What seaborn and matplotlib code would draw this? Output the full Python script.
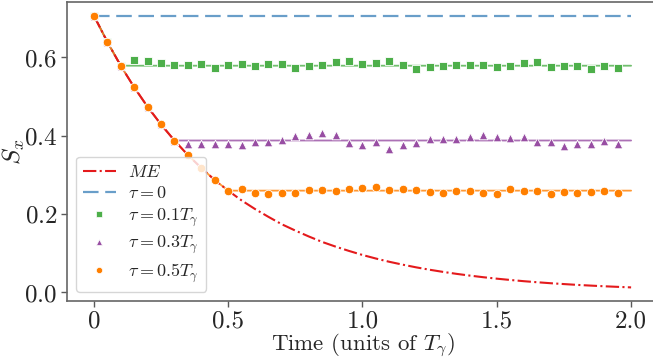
import numpy as np
import pandas as pd
import matplotlib
matplotlib.use("Agg")
import matplotlib.pyplot as plt
import seaborn as sns
from matplotlib.lines import Line2D

# ---------------- data ----------------
me_t = [0.00, 0.05, 0.10, 0.15, 0.20, 0.25, 0.30, 0.35, 0.40, 0.45, 0.50,
        0.55, 0.60, 0.65, 0.70, 0.75, 0.80, 0.85, 0.90, 0.95, 1.00,
        1.05, 1.10, 1.15, 1.20, 1.25, 1.30, 1.35, 1.40, 1.45, 1.50,
        1.55, 1.60, 1.65, 1.70, 1.75, 1.80, 1.85, 1.90, 1.95, 2.00]
me_s = [0.707, 0.640, 0.579, 0.524, 0.474, 0.429, 0.388, 0.351, 0.318, 0.287, 0.260,
        0.235, 0.213, 0.193, 0.174, 0.158, 0.143, 0.129, 0.117, 0.106, 0.0957,
        0.0866, 0.0783, 0.0709, 0.0641, 0.0580, 0.0525, 0.0475, 0.0430, 0.0389, 0.0352,
        0.0319, 0.0288, 0.0261, 0.0236, 0.0214, 0.0193, 0.0175, 0.0158, 0.0143, 0.0129]

tau0_value = 0.707

sample_t = me_t[:-1]  # 0 ... 1.95

s_tau01 = [0.707, 0.640, 0.579, 0.594, 0.592, 0.586, 0.580, 0.580, 0.584, 0.572,
           0.581, 0.584, 0.578, 0.583, 0.584, 0.574, 0.579, 0.581, 0.588, 0.592,
           0.584, 0.586, 0.590, 0.582, 0.570, 0.576, 0.577, 0.580, 0.582, 0.580,
           0.575, 0.577, 0.585, 0.589, 0.576, 0.579, 0.579, 0.571, 0.577, 0.572]
s_tau03 = [0.707, 0.640, 0.579, 0.524, 0.474, 0.429, 0.388, 0.379, 0.379, 0.379,
           0.380, 0.376, 0.384, 0.384, 0.390, 0.399, 0.403, 0.406, 0.401, 0.382,
           0.376, 0.383, 0.367, 0.376, 0.381, 0.393, 0.392, 0.393, 0.396, 0.401,
           0.397, 0.394, 0.396, 0.385, 0.385, 0.375, 0.378, 0.380, 0.387, 0.380]
s_tau05 = [0.707, 0.640, 0.579, 0.524, 0.474, 0.429, 0.388, 0.351, 0.318, 0.287,
           0.260, 0.263, 0.255, 0.252, 0.255, 0.255, 0.262, 0.262, 0.258, 0.264,
           0.267, 0.270, 0.262, 0.263, 0.261, 0.256, 0.255, 0.259, 0.258, 0.253,
           0.252, 0.263, 0.259, 0.258, 0.252, 0.257, 0.254, 0.257, 0.258, 0.254]

taus = [0.1, 0.3, 0.5]
plateaus = [0.579, 0.388, 0.260]
labels = [r"$\tau=0.1T_\gamma$", r"$\tau=0.3T_\gamma$", r"$\tau=0.5T_\gamma$"]
colors = ["#4daf4a", "#984ea3", "#ff7f00"]
markers = ["s", "^", "o"]

xtick_vals = [0, 0.5, 1.0, 1.5, 2.0]
xtick_labels = ["0", "0.5", "1.0", "1.5", "2.0"]
ytick_vals = [0.0, 0.2, 0.4, 0.6]

# ---------------- style ----------------
sns.set_style("ticks")
plt.rcParams["font.family"] = ["serif"]
plt.rcParams["font.serif"] = ["cmr10", "DejaVu Serif"]
plt.rcParams["mathtext.fontset"] = "cm"
plt.rcParams["axes.formatter.use_mathtext"] = True
plt.rcParams["axes.unicode_minus"] = False

fig = plt.figure(figsize=(6.53, 3.6), dpi=100)
ax = fig.add_axes([0.1026, 0.1639, 0.905, 0.8306])

# plateau (solid) lines: follow ME until tau, then flat
for tau, pl, col in zip(taus, plateaus, colors):
    xs = [t for t in me_t if t <= tau + 1e-9] + [2.0]
    ys = [s for t, s in zip(me_t, me_s) if t <= tau + 1e-9] + [pl]
    sns.lineplot(x=xs, y=ys, color=col, lw=1.3, alpha=0.8, ax=ax,
                 legend=False, sort=False, estimator=None)

# ME curve
sns.lineplot(x=me_t, y=me_s, color="#e41a1c", lw=1.5, ax=ax,
             legend=False, estimator=None)
ax.lines[-1].set_linestyle("-.")
# tau = 0
sns.lineplot(x=[me_t[0], me_t[-1]], y=[tau0_value, tau0_value], color="#377eb8",
             lw=1.6, alpha=0.75, ax=ax, legend=False, estimator=None)
ax.lines[-1].set_dashes((7, 3))

# sampled points
for vals, col, mk in zip([s_tau01, s_tau03, s_tau05], colors, markers):
    df = pd.DataFrame({"t": sample_t, "s": vals})
    sns.scatterplot(data=df, x="t", y="s", color=col, marker=mk, s=38,
                    edgecolor="white", linewidth=0.6, ax=ax, legend=False, zorder=3)

# legend
handles = [
    Line2D([], [], color="#e41a1c", lw=1.5, ls="-."),
    Line2D([], [], color="#377eb8", lw=1.6, alpha=0.75, dashes=(7, 3)),
]
for col, mk in zip(colors, markers):
    handles.append(Line2D([], [], color=col, marker=mk, ls="none", markersize=4.5,
                          markeredgecolor="white", markeredgewidth=0.5))
ax.legend(handles, [r"$ME$", r"$\tau=0$"] + labels, loc="lower left",
          fontsize=13, handlelength=1.8, handletextpad=0.7, borderaxespad=0.5,
          labelspacing=0.28)

ax.set_xticks(xtick_vals)
ax.set_xticklabels(xtick_labels)
ax.set_yticks(ytick_vals)
ax.tick_params(labelsize=18, length=4, width=1, color="0.35", pad=3)
ax.set_xlabel(r"Time (units of $T_\gamma$)", fontsize=16.5)
ax.set_ylabel(r"$S_x$", fontsize=18)
ax.xaxis.set_label_coords(0.5, -0.147)
ax.xaxis.label.set_va("center")
ax.yaxis.set_label_coords(-0.09, 0.5)
ax.yaxis.label.set_va("center")

for side in ["left", "bottom", "top", "right"]:
    ax.spines[side].set_visible(True)
    ax.spines[side].set_color("0.4")
    ax.spines[side].set_linewidth(1.2)

fig.savefig("out.png", dpi=100)
